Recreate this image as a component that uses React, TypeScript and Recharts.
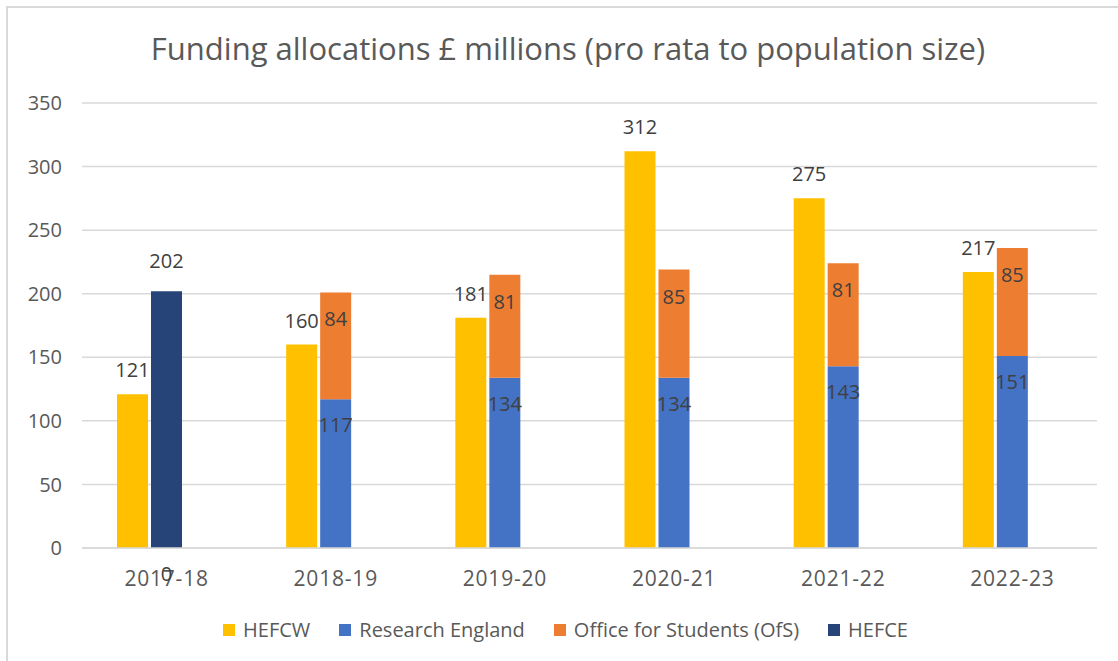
import React from 'react';
import {
  BarChart,
  Bar,
  XAxis,
  YAxis,
  CartesianGrid,
  Legend,
  LabelList
} from 'recharts';

const categories = ['2017-18', '2018-19', '2019-20', '2020-21', '2021-22', '2022-23'];
const hefcw = [121, 160, 181, 312, 275, 217];
const researchEngland = [0, 117, 134, 134, 143, 151];
const officeForStudents = [0, 84, 81, 85, 81, 85];
const hefce = [202, 0, 0, 0, 0, 0];
const totals = [202, 201, 215, 219, 224, 236];
const yTicks = [0, 50, 100, 150, 200, 250, 300, 350];
const legendOrder = ['HEFCW', 'Research England', 'Office for Students (OfS)', 'HEFCE'];

const data = categories.map((year, i) => ({
  year,
  hefcw: hefcw[i],
  re: researchEngland[i],
  ofs: officeForStudents[i],
  hefce: hefce[i],
  total: totals[i],
  spacer: 0
}));

const labelColor = '#404040';
const axisColor = '#595959';
const gridColor = '#d9d9d9';

// label centred `offset` px above (negative = below) the top edge of the rect
const makeLabel = (offset: number, hideZero = false, useTotals = false) => (props: any) => {
  const { x, y, width, value, index } = props;
  const v = useTotals ? totals[index] ?? value : value;
  if (hideZero && !v) return null;
  const cx = Number(x) + Number(width) / 2;
  const cy = Number(y) - offset;
  return (
    <text x={cx} y={cy + 7} textAnchor="middle" fontSize={20} fill={labelColor}>
      {v}
    </text>
  );
};

// zero-height segments get no label of their own, so the 0 of Research England
// is drawn from the base of the HEFCE bar
const baseZeroLabel = (props: any) => {
  const { x, y, width, height, index } = props;
  const v = researchEngland[index];
  if (v !== 0 || !Number(height)) return null;
  const cx = Number(x) + Number(width) / 2;
  const cy = Number(y) + Number(height) + 26;
  return (
    <text x={cx} y={cy + 7} textAnchor="middle" fontSize={20} fill={labelColor}>
      {v}
    </text>
  );
};

const renderLegend = (props: any) => {
  const items = (props.payload || [])
    .filter((p: any) => p.type !== 'none' && legendOrder.includes(p.value))
    .sort((a: any, b: any) => legendOrder.indexOf(a.value) - legendOrder.indexOf(b.value));
  return (
    <div
      style={{
        display: 'flex',
        justifyContent: 'center',
        alignItems: 'center',
        height: 30,
        paddingLeft: 34,
        boxSizing: 'border-box'
      }}
    >
      {items.map((item: any, i: number) => (
        <div
          key={item.value}
          style={{
            display: 'flex',
            alignItems: 'center',
            marginRight: i < items.length - 1 ? 29 : 0
          }}
        >
          <span
            style={{
              width: 12,
              height: 12,
              background: item.color,
              marginRight: 8,
              display: 'inline-block'
            }}
          />
          <span style={{ fontSize: 20, color: axisColor, lineHeight: '30px' }}>{item.value}</span>
        </div>
      ))}
    </div>
  );
};

const App: React.FC = () => {
  return (
    <div
      style={{
        position: 'absolute',
        left: 0,
        top: 0,
        width: 1118,
        height: 661,
        background: '#ffffff',
        fontFamily: '"Open Sans", sans-serif',
        overflow: 'hidden'
      }}
    >
      <div
        style={{
          position: 'absolute',
          left: 6,
          top: 6,
          right: 0,
          bottom: 0,
          borderTop: `2px solid ${gridColor}`,
          borderLeft: `2px solid ${gridColor}`
        }}
      />
      <div
        style={{
          position: 'absolute',
          left: 0,
          top: 33,
          width: 1118,
          paddingLeft: 18,
          boxSizing: 'border-box',
          textAlign: 'center',
          fontSize: 31,
          lineHeight: '31px',
          color: axisColor
        }}
      >
        Funding allocations £ millions (pro rata to population size)
      </div>
      <BarChart
        width={1118}
        height={661}
        data={data}
        margin={{ top: 103, right: 21, left: 0, bottom: 16 }}
        barCategoryGap={35}
        barGap={3}
      >
        <CartesianGrid vertical={false} stroke={gridColor} strokeWidth={1.5} />
        <XAxis
          dataKey="year"
          height={67}
          tickLine={false}
          tickSize={0}
          tickMargin={23}
          axisLine={{ stroke: gridColor, strokeWidth: 1.5 }}
          tick={{ fontSize: 21, fill: axisColor, letterSpacing: 0.8 }}
          interval={0}
        />
        <YAxis
          width={82}
          domain={[0, 350]}
          ticks={yTicks}
          tickLine={false}
          axisLine={false}
          tickSize={0}
          tickMargin={20}
          tick={{ fontSize: 20, fill: axisColor }}
        />
        <Legend verticalAlign="bottom" content={renderLegend} />
        <Bar dataKey="hefcw" name="HEFCW" stackId="a" fill="#FFC000" isAnimationActive={false}>
          <LabelList dataKey="hefcw" content={makeLabel(24)} />
        </Bar>
        <Bar dataKey="re" name="Research England" stackId="b" fill="#4472C4" isAnimationActive={false}>
          <LabelList dataKey="re" content={makeLabel(-26, true)} />
        </Bar>
        <Bar dataKey="ofs" name="Office for Students (OfS)" stackId="b" fill="#ED7D31" isAnimationActive={false}>
          <LabelList dataKey="ofs" content={makeLabel(-27, true)} />
        </Bar>
        <Bar dataKey="hefce" name="HEFCE" stackId="b" fill="#264478" isAnimationActive={false}>
          <LabelList dataKey="total" content={makeLabel(30, false, true)} />
          <LabelList dataKey="re" content={baseZeroLabel} />
        </Bar>
        <Bar dataKey="spacer" stackId="c" fill="transparent" legendType="none" isAnimationActive={false} />
      </BarChart>
    </div>
  );
};

export default App;
